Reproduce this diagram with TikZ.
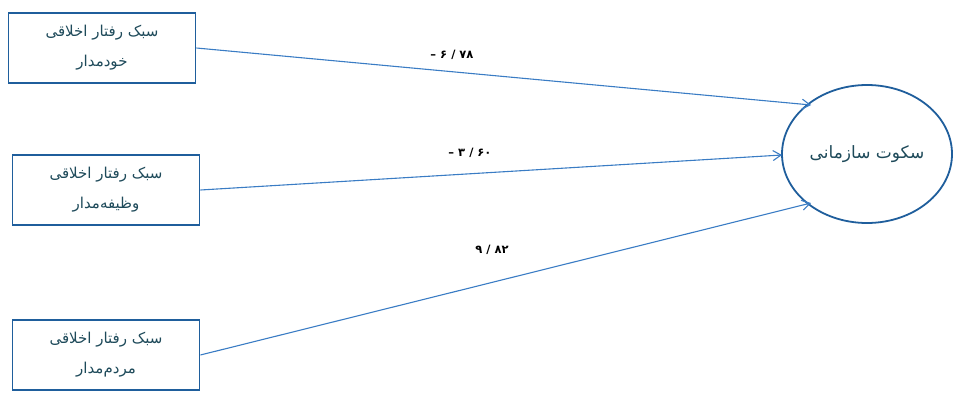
\documentclass[tikz,border=0pt]{standalone}
\usepackage{fontspec}
\newfontfamily\arabicfont[Script=Arabic]{DejaVu Sans}
\TeXXeTstate=1
\usetikzlibrary{arrows.meta,shapes.geometric}
\definecolor{boxblue}{HTML}{1F5E9C}
\definecolor{lineblue}{HTML}{3A7CC4}
\definecolor{txt}{HTML}{1E4A5A}
\begin{document}
\begin{tikzpicture}[x=1pt,y=-1pt,
  varbox/.style={draw=boxblue, line width=1.8pt, minimum width=187pt, minimum height=70pt, inner sep=0pt, align=center, text=txt, font=\arabicfont\fontsize{15}{30}\selectfont},
  link/.style={draw=lineblue, line width=1.1pt, -{Straight Barb[length=8pt,width=10pt]}},
  coef/.style={text=black, font=\arabicfont\bfseries\fontsize{11.5}{14}\selectfont}]
\useasboundingbox (0,0) rectangle (954,407);
\node[varbox] (b1) at (102,48) {\beginR سبک رفتار اخلاقی\endR\\ \beginR خودمدار\endR};
\node[varbox] (b2) at (106,190) {\beginR سبک رفتار اخلاقی\endR\\ \beginR وظیفه‌مدار\endR};
\node[varbox] (b3) at (106,355) {\beginR سبک رفتار اخلاقی\endR\\ \beginR مردم‌مدار\endR};
\node[draw=boxblue, line width=1.8pt, ellipse, minimum width=170pt, minimum height=138pt, inner sep=0pt, text=txt, font=\arabicfont\fontsize{17}{20}\selectfont] (e) at (867,154) {\beginR سکوت سازمانی\endR};
\coordinate (e1) at (811,105);
\coordinate (e2) at (782,155);
\coordinate (e3) at (811,203);
\draw[link] (b1.east) -- (e1);
\draw[link] (b2.east) -- (e2);
\draw[link] (b3.east) -- (e3);
\node[coef] (l1) at (452,55) {\beginR ۷۸ / ۶ –\endR};
\node[coef] (l2) at (470,153) {\beginR ۶۰ / ۳ –\endR};
\node[coef] (l3) at (492,250) {\beginR ۸۲ / ۹\endR};
\end{tikzpicture}
\end{document}
